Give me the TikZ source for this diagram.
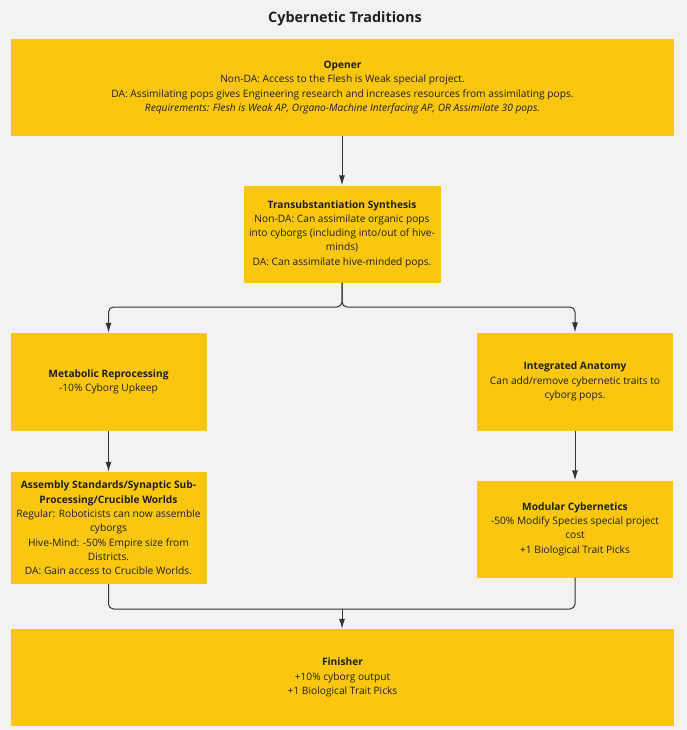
\documentclass[tikz,border=0pt]{standalone}
\usepackage{fontspec}
\setmainfont{Open Sans}
\usetikzlibrary{arrows.meta}
\definecolor{bg}{HTML}{F2F2F2}
\definecolor{boxy}{HTML}{FAC710}
\definecolor{txt}{HTML}{1F1F1F}
\definecolor{ln}{HTML}{333333}
\begin{document}
\begin{tikzpicture}[x=1pt,y=-1pt,
  card/.style={rectangle, fill=boxy, draw=none, text=txt, align=center, inner sep=0pt,
    font=\fontsize{10.2}{14.3}\selectfont},
  conn/.style={draw=ln, line width=1pt, rounded corners=5pt, -{Latex[length=10pt,width=6pt]}},
  plain/.style={draw=ln, line width=1pt, rounded corners=5pt}]
\fill[bg] (0,0) rectangle (687,730);
\useasboundingbox (0,0) rectangle (687,730);
\node[text=txt, font=\bfseries\fontsize{14.4}{16}\selectfont] (title) at (345,19) {Cybernetic Traditions};
\node[card, minimum width=663pt, minimum height=97pt] (opener) at (342.5,87.5)
 {\textbf{Opener}\\Non-DA: Access to the Flesh is Weak special project.\\DA: Assimilating pops gives Engineering research and increases resources from assimilating pops.\\\textit{Requirements: Flesh is Weak AP, Organo-Machine Interfacing AP, OR Assimilate 30 pops.}};
\node[card, minimum width=197pt, minimum height=97pt] (trans) at (342,234)
 {\textbf{Transubstantiation Synthesis}\\Non-DA: Can assimilate organic pops\\into cyborgs (including into/out of hive-\\minds)\\DA: Can assimilate hive-minded pops.};
\node[card, minimum width=196pt, minimum height=98pt] (meta) at (108.5,382)
 {\textbf{Metabolic Reprocessing}\\-10\% Cyborg Upkeep};
\node[card, minimum width=196pt, minimum height=98pt] (integ) at (575,381.5)
 {\textbf{Integrated Anatomy}\\Can add/remove cybernetic traits to\\cyborg pops.};
\node[card, minimum width=196pt, minimum height=112pt] (assem) at (108.5,528)
 {\textbf{Assembly Standards/Synaptic Sub-}\\\textbf{Processing/Crucible Worlds}\\Regular: Roboticists can now assemble\\cyborgs\\Hive-Mind: -50\% Empire size from\\Districts.\\DA: Gain access to Crucible Worlds.};
\node[card, minimum width=196pt, minimum height=97pt] (modular) at (575,529)
 {\textbf{Modular Cybernetics}\\-50\% Modify Species special project\\cost\\+1 Biological Trait Picks};
\node[card, minimum width=663pt, minimum height=97pt] (finisher) at (342.5,677.5)
 {\textbf{Finisher}\\+10\% cyborg output\\+1 Biological Trait Picks};
\coordinate (split) at (342,307);
\coordinate (merge) at (342,609);
\draw[conn] (opener.south -| trans.north) -- (trans.north);
\draw[conn] (trans.south) |- (split) -| (meta.north);
\draw[conn] (trans.south) |- (split) -| (integ.north);
\draw[conn] (meta.south) -- (assem.north);
\draw[conn] (integ.south) -- (modular.north);
\draw[plain] (assem.south) |- (merge);
\draw[plain] (modular.south) |- (merge);
\draw[conn] (merge) -- (merge |- finisher.north);
\end{tikzpicture}
\end{document}
